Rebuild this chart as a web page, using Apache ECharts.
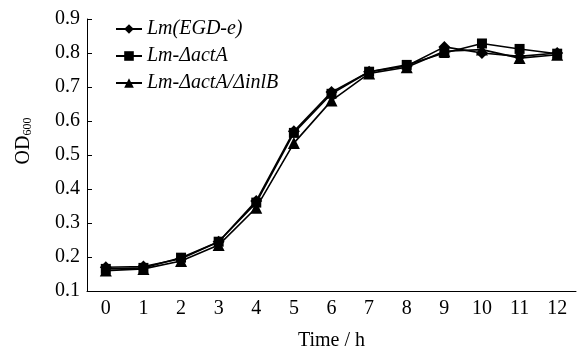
<!DOCTYPE html>
<html>
<head>
<meta charset="utf-8">
<script src="https://cdn.jsdelivr.net/npm/echarts@6/dist/echarts.min.js"></script>
<style>html,body{margin:0;padding:0;background:#fff;}#c{width:579px;height:356px;}</style>
</head>
<body>
<div id="c"></div>
<script>
var hours = ['0','1','2','3','4','5','6','7','8','9','10','11','12'];
var seriesNames = ['Lm(EGD-e)', 'Lm-\u0394actA', 'Lm-\u0394actA/\u0394inlB'];
var wildType = [0.170, 0.172, 0.195, 0.245, 0.365, 0.570, 0.685, 0.745, 0.762, 0.818, 0.800, 0.790, 0.800];
var actA     = [0.165, 0.168, 0.198, 0.245, 0.360, 0.565, 0.680, 0.745, 0.765, 0.800, 0.828, 0.812, 0.798];
var actAinlB = [0.160, 0.165, 0.188, 0.235, 0.345, 0.535, 0.660, 0.740, 0.758, 0.805, 0.810, 0.785, 0.795];

var font = 'Liberation Serif';
var chart = echarts.init(document.getElementById('c'), null, {renderer: 'canvas'});
function mk(name, data, symbol, size) {
  return {
    name: name, type: 'line', data: data,
    symbol: symbol, symbolSize: size,
    itemStyle: {color: '#000'},
    lineStyle: {color: '#000', width: 1.6},
    animation: false
  };
}
chart.setOption({
  animation: false,
  grid: {left: 87, right: 3, top: 19, bottom: 61},
  legend: {
    orient: 'vertical', left: 110, top: 14,
    itemGap: 7, itemWidth: 26, itemHeight: 12,
    textStyle: {fontFamily: font, fontStyle: 'italic', fontSize: 20, color: '#000'},
    data: seriesNames
  },
  xAxis: {
    type: 'category', data: hours, boundaryGap: true,
    axisLine: {lineStyle: {color: '#000', width: 1}},
    axisTick: {inside: true, length: 5, lineStyle: {color: '#000'}},
    axisLabel: {fontFamily: font, fontSize: 20, color: '#000', margin: 8},
    name: 'Time / h', nameLocation: 'middle', nameGap: 40,
    nameTextStyle: {fontFamily: font, fontSize: 20, color: '#000'}
  },
  yAxis: {
    type: 'value', min: 0.1, max: 0.9, interval: 0.1,
    splitLine: {show: false},
    axisLine: {show: true, lineStyle: {color: '#000', width: 1}},
    axisTick: {show: true, inside: true, length: 5, lineStyle: {color: '#000'}},
    axisLabel: {fontFamily: font, fontSize: 20, color: '#000', margin: 7,
      formatter: function (v) { return v.toFixed(1); }},
    name: '{a|OD}{b|600}', nameLocation: 'middle', nameGap: 53, nameRotate: 90,
    nameTextStyle: {
      fontFamily: font, fontSize: 20, color: '#000', padding: [0, 0, 0, 28],
      rich: {
        a: {fontFamily: font, fontSize: 20, color: '#000'},
        b: {fontFamily: font, fontSize: 12, color: '#000', padding: [9, 0, 0, 0]}
      }
    }
  },
  series: [
    mk(seriesNames[0], wildType, 'diamond', 12),
    mk(seriesNames[1], actA, 'rect', 10),
    mk(seriesNames[2], actAinlB, 'triangle', 12)
  ]
});
</script>
</body>
</html>
